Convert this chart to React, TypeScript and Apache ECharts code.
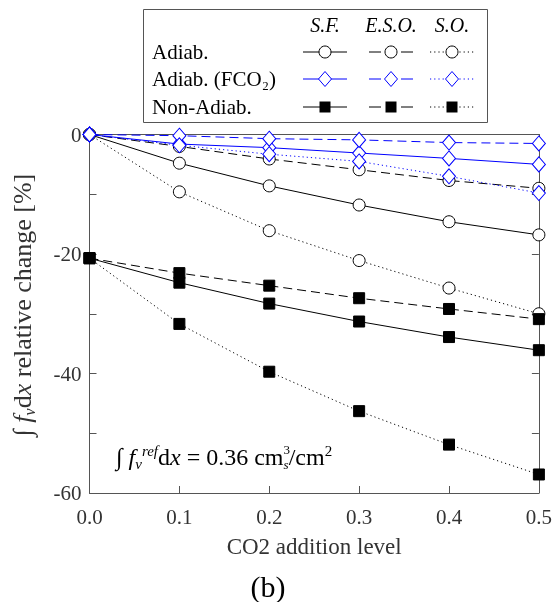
import React, { useEffect, useRef } from "react";
import * as echarts from "echarts";

const xLevels = [0, 0.1, 0.2, 0.3, 0.4, 0.5];
const xTicks = ["0.0", "0.1", "0.2", "0.3", "0.4", "0.5"];
const yLabelValues = [0, -20, -40, -60];

const adiabSF = [0, -4.8, -8.6, -11.8, -14.6, -16.8];
const adiabESO = [0, -2.0, -4.1, -5.9, -7.7, -9.0];
const adiabSO = [0, -9.6, -16.1, -21.1, -25.7, -30.0];
const fco2SF = [0, -1.6, -2.2, -3.1, -4.0, -5.0];
const fco2ESO = [0, -0.2, -0.7, -0.9, -1.35, -1.5];
const fco2SO = [0, -1.8, -3.3, -4.5, -7.0, -9.8];
const nonSF = [-20.7, -24.8, -28.3, -31.3, -33.9, -36.1];
const nonESO = [-20.7, -23.2, -25.3, -27.4, -29.2, -30.9];
const nonSO = [-20.7, -31.7, -39.7, -46.3, -51.9, -56.9];

const legendColumns = ["S.F.", "E.S.O.", "S.O."];
const legendRows = ["Adiab.", "Adiab. (FCO₂)", "Non-Adiab."];

const FONT = "'Liberation Serif', 'Times New Roman', serif";
const AXIS_GRAY = "#555";
const BLUE = "#0000ff";
const DASH = [9, 5];
const DOT = [1.2, 3];

type Style = "solid" | "dashed" | "dotted";

function lineType(s: Style): any {
  return s === "solid" ? "solid" : s === "dashed" ? DASH : DOT;
}

function mkSeries(name: string, values: number[], kind: "circle" | "diamond" | "square", style: Style, z: number) {
  const color = kind === "diamond" ? BLUE : "#000";
  return {
    name,
    type: "line",
    xAxisIndex: 0,
    yAxisIndex: 0,
    data: xLevels.map((x, i) => [x, values[i]]),
    symbol: kind === "circle" ? "circle" : kind === "diamond" ? "diamond" : "rect",
    symbolSize: kind === "circle" ? 12 : kind === "diamond" ? [13, 15] : 11,
    showSymbol: true,
    clip: false,
    z,
    itemStyle:
      kind === "square"
        ? { color: "#000", borderColor: "#000", borderWidth: 1 }
        : { color: "#fff", borderColor: color, borderWidth: 1 },
    lineStyle: { color, width: 1, type: lineType(style) },
    emphasis: { disabled: true },
  };
}

function legendGraphics() {
  const els: any[] = [];
  els.push({
    type: "rect",
    shape: { x: 143.5, y: 9.5, width: 344, height: 113 },
    style: { fill: "#fff", stroke: AXIS_GRAY, lineWidth: 1 },
    z: 100,
  });
  const colX = [[303, 347, 325], [369, 413, 391], [430, 475, 452]];
  const rowY = [52, 79, 107];
  legendColumns.forEach((c, i) => {
    els.push({
      type: "text",
      x: colX[i][2],
      y: 25,
      z: 101,
      style: {
        text: c,
        font: `italic 20px ${FONT}`,
        fill: "#000",
        align: "center",
        verticalAlign: "middle",
      },
    });
  });
  legendRows.forEach((r, j) => {
    els.push({
      type: "text",
      x: 152,
      y: rowY[j],
      z: 101,
      style: {
        text: r,
        font: `21px ${FONT}`,
        fill: "#000",
        align: "left",
        verticalAlign: "middle",
      },
    });
    const color = j === 1 ? BLUE : "#000";
    colX.forEach(([x1, x2, cx], i) => {
      const y = rowY[j];
      if (i === 1) {
        els.push({ type: "line", z: 101, shape: { x1, y1: y, x2: x1 + 12, y2: y }, style: { stroke: color, lineWidth: 1 } });
        els.push({ type: "line", z: 101, shape: { x1: x2 - 12, y1: y, x2, y2: y }, style: { stroke: color, lineWidth: 1 } });
      } else {
        els.push({
          type: "line",
          z: 101,
          shape: { x1, y1: y, x2, y2: y },
          style: { stroke: color, lineWidth: 1, lineDash: i === 2 ? DOT : null },
        });
      }
      if (j === 0) {
        els.push({ type: "circle", z: 102, shape: { cx, cy: y, r: 6 }, style: { fill: "#fff", stroke: "#000", lineWidth: 1 } });
      } else if (j === 1) {
        els.push({
          type: "polygon",
          z: 102,
          shape: { points: [[cx, y - 7.5], [cx + 6.5, y], [cx, y + 7.5], [cx - 6.5, y]] },
          style: { fill: "#fff", stroke: BLUE, lineWidth: 1 },
        });
      } else {
        els.push({ type: "rect", z: 102, shape: { x: cx - 5.5, y: y - 5.5, width: 11, height: 11 }, style: { fill: "#000" } });
      }
    });
  });
  return els;
}

export default function App() {
  const ref = useRef<HTMLDivElement>(null);
  useEffect(() => {
    if (!ref.current) return;
    const chart = echarts.init(ref.current, null, { renderer: "svg" });
    const axisCommon = {
      type: "value",
      axisLine: { show: true, onZero: false, lineStyle: { color: AXIS_GRAY, width: 1 } },
      axisTick: { show: true, inside: true, length: 7, lineStyle: { color: AXIS_GRAY, width: 1 } },
      splitLine: { show: false },
    };
    const option: any = {
      animation: false,
      grid: { left: 89.5, right: 14.5, top: 134.5, bottom: 109, containLabel: false },
      xAxis: [
        {
          ...axisCommon,
          position: "bottom",
          min: 0,
          max: 0.5,
          interval: 0.1,
          axisLabel: {
            fontFamily: FONT,
            fontSize: 21,
            color: "#333",
            margin: 13,
            formatter: (v: number) => xTicks[Math.round(v * 10)] ?? "",
          },
          name: "CO2 addition level",
          nameLocation: "middle",
          nameGap: 42,
          nameTextStyle: { fontFamily: FONT, fontSize: 23, color: "#333" },
        },
        {
          ...axisCommon,
          position: "top",
          min: 0,
          max: 0.5,
          interval: 0.1,
          axisLabel: { show: false },
        },
      ],
      yAxis: [
        {
          ...axisCommon,
          position: "left",
          min: -60,
          max: 0,
          interval: 10,
          axisLabel: {
            fontFamily: FONT,
            fontSize: 21,
            color: "#333",
            margin: 8,
            formatter: (v: number) => (yLabelValues.includes(v) ? String(v) : ""),
          },
        },
        {
          ...axisCommon,
          position: "right",
          min: -60,
          max: 0,
          interval: 10,
          axisLabel: { show: false },
        },
      ],
      series: [
        mkSeries("Adiab. S.F.", adiabSF, "circle", "solid", 2),
        mkSeries("Adiab. E.S.O.", adiabESO, "circle", "dashed", 2),
        mkSeries("Adiab. S.O.", adiabSO, "circle", "dotted", 2),
        mkSeries("Non-Adiab. S.F.", nonSF, "square", "solid", 3),
        mkSeries("Non-Adiab. E.S.O.", nonESO, "square", "dashed", 3),
        mkSeries("Non-Adiab. S.O.", nonSO, "square", "dotted", 3),
        mkSeries("Adiab. (FCO2) S.F.", fco2SF, "diamond", "solid", 4),
        mkSeries("Adiab. (FCO2) E.S.O.", fco2ESO, "diamond", "dashed", 4),
        mkSeries("Adiab. (FCO2) S.O.", fco2SO, "diamond", "dotted", 4),
      ],
      graphic: [
        ...legendGraphics(),
        {
          type: "text",
          x: 22,
          y: 305,
          rotation: Math.PI / 2,
          z: 50,
          style: {
            text: "{int|∫} {it|f}{sub|v}d{it|x} relative change [%]",
            font: `26px ${FONT}`,
            fill: "#333",
            align: "center",
            verticalAlign: "middle",
            lineHeight: 30,
            rich: {
              int: { fontFamily: FONT, fontSize: 26, fill: "#333", lineHeight: 30 },
              it: { fontFamily: FONT, fontSize: 26, fontStyle: "italic", fill: "#333", lineHeight: 30 },
              sub: { fontFamily: FONT, fontSize: 16, fontStyle: "italic", fill: "#333", verticalAlign: "bottom" },
            },
          },
        },
        {
          type: "text",
          x: 116,
          y: 457,
          z: 50,
          style: {
            text: "{int|∫} {it|f}{sub|v}{sup|ref}d{it|x} = 0.36 cm{sup0|3}{subs|s}/cm{sup2|2}",
            font: `24px ${FONT}`,
            fill: "#000",
            align: "left",
            verticalAlign: "middle",
            lineHeight: 28,
            rich: {
              int: { fontFamily: FONT, fontSize: 24, fill: "#000", lineHeight: 28 },
              it: { fontFamily: FONT, fontSize: 24, fontStyle: "italic", fill: "#000", lineHeight: 28 },
              sub: { fontFamily: FONT, fontSize: 15, fontStyle: "italic", fill: "#000", verticalAlign: "bottom" },
              subs: { fontFamily: FONT, fontSize: 13, fontStyle: "italic", fill: "#000", verticalAlign: "bottom", lineHeight: 13 },
              sup: { fontFamily: FONT, fontSize: 15, fontStyle: "italic", fill: "#000", verticalAlign: "top" },
              sup0: { fontFamily: FONT, fontSize: 13, fill: "#000", verticalAlign: "top", lineHeight: 15, width: 0.1 },
              sup2: { fontFamily: FONT, fontSize: 15, fill: "#000", verticalAlign: "top" },
            },
          },
        },
        {
          type: "text",
          x: 268,
          y: 586,
          style: {
            text: "(b)",
            font: `30px ${FONT}`,
            fill: "#000",
            align: "center",
            verticalAlign: "middle",
          },
        },
      ],
    };
    chart.setOption(option);
    return () => chart.dispose();
  }, []);
  return (
    <div
      ref={ref}
      style={{ position: "fixed", left: 0, top: 0, width: 555, height: 602 }}
    />
  );
}
